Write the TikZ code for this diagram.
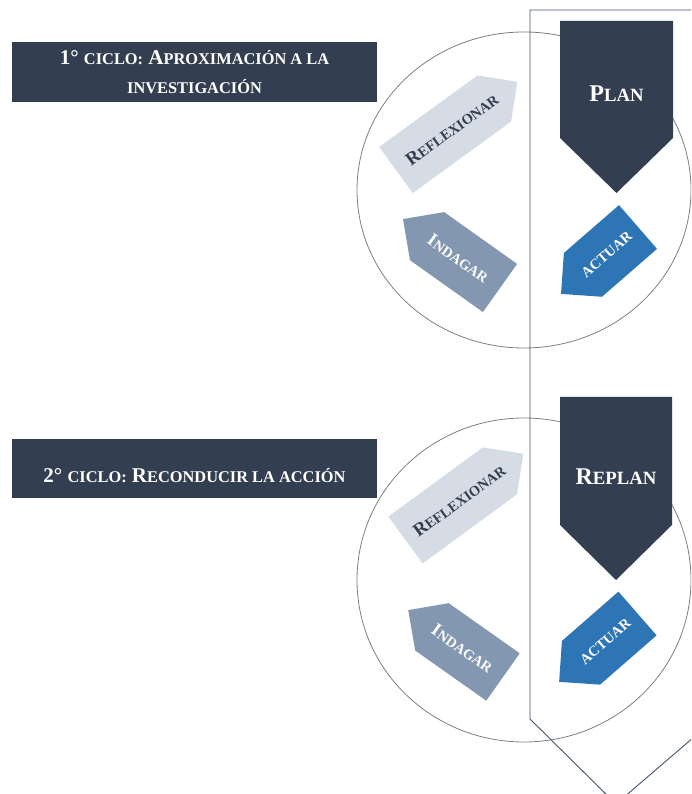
\documentclass[tikz,border=0pt]{standalone}
\usepackage{fontspec}
\setmainfont{Liberation Serif}
\definecolor{navy}{HTML}{333F50}
\definecolor{reflc}{HTML}{D6DCE5}
\definecolor{indac}{HTML}{8497B0}
\definecolor{actuc}{HTML}{2E75B6}
\definecolor{circc}{HTML}{7F7F7F}
\definecolor{outc}{HTML}{44546A}
\makeatletter
\newcommand{\smc}[1]{{\fontsize{\the\dimexpr\f@size pt*78/100\relax}{\f@baselineskip}\selectfont #1}}
\makeatother
% #1 name, #2 x, #3 y, #4 angle, #5 length, #6 width, #7 style prefix, #8 text rotation, #9 text
\newcommand{\homeplate}[9]{%
  \begin{scope}[shift={(#2,#3)},rotate=#4]
    \fill[#7 fill] (0,-#6/2) -- ({#5-#6/2},-#6/2) -- (#5,0) -- ({#5-#6/2},#6/2) -- (0,#6/2) -- cycle;
    \node[#7 text, rotate=#8] (#1) at ({(#5-#6/2)*0.57},0) {#9};
  \end{scope}}
\begin{document}
\begin{tikzpicture}[x=1pt,y=1pt,
  circ/.style={draw=circc, line width=0.8pt},
  outline/.style={draw=outc, line width=0.9pt},
  label/.style={fill=navy, text=white, font=\fontsize{21}{29}\selectfont\bfseries, align=center, minimum width=365pt, inner sep=0pt},
  labtext/.style={text=white, font=\fontsize{21}{29}\selectfont\bfseries, align=center, inner sep=0pt},
  plan text/.style={text=white, font=\fontsize{24}{28}\selectfont\bfseries, inner sep=0pt},
  refl fill/.style={fill=reflc},
  refl text/.style={text=navy, font=\fontsize{18.5}{20}\selectfont\bfseries, inner sep=0pt},
  inda fill/.style={fill=indac},
  inda text/.style={text=white, font=\fontsize{18.5}{20}\selectfont\bfseries, inner sep=0pt},
  actu fill/.style={fill=actuc},
  actu text/.style={text=white, font=\fontsize{18.5}{20}\selectfont\bfseries, inner sep=0pt}]
\useasboundingbox (0,0) rectangle (691,794);
\clip (0,0) rectangle (691,794);
\fill[white] (0,0) rectangle (691,794);
% ellipses
\draw[circ] (524,604) ellipse [x radius=167pt, y radius=158pt];
\draw[circ] (524,214) ellipse [x radius=167pt, y radius=162pt];
% big outline
\draw[outline] (530,784) -- (715,784) -- (715,75) -- (616,-10) -- (530,75) -- cycle;
% labels
\node[label, minimum height=60pt] (lab1) at (194.5,722) {1° \smc{CICLO:} A\smc{PROXIMACIÓN A LA}\\\smc{INVESTIGACIÓN}};
\fill[navy] (12,296) rectangle (377,355);
\node[labtext] (lab2) at (194.5,318) {2° \smc{CICLO:} R\smc{ECONDUCIR LA ACCIÓN}};
% plan
\fill[navy] (560,773) -- (673,773) -- (673,656) -- (616.5,601) -- (560,656) -- cycle;
\node[plan text] (plan) at (616.5,700) {P\smc{LAN}};
\fill[navy] (560,397) -- (672,397) -- (672,269) -- (616,214) -- (560,269) -- cycle;
\node[plan text] (replan) at (616,317) {R\smc{EPLAN}};
% top cycle
\homeplate{refl1}{396}{624}{36}{150}{57}{refl}{36}{R\smc{EFLEXIONAR}}
\homeplate{inda1}{500}{506}{144.6}{119}{59}{inda}{-35.4}{I\smc{NDAGAR}}
\homeplate{actu1}{638}{567}{221}{102}{58}{actu}{41}{\smc{ACTUAR}}
% bottom cycle
\homeplate{refl2}{405.5}{254}{36.2}{146}{58}{refl}{36.2}{R\smc{EFLEXIONAR}}
\homeplate{inda2}{503}{117}{144.8}{116}{58}{inda}{-35.2}{I\smc{NDAGAR}}
\homeplate{actu2}{637.5}{180.5}{221.1}{104}{58}{actu}{41.1}{\smc{ACTUAR}}
\end{tikzpicture}
\end{document}
